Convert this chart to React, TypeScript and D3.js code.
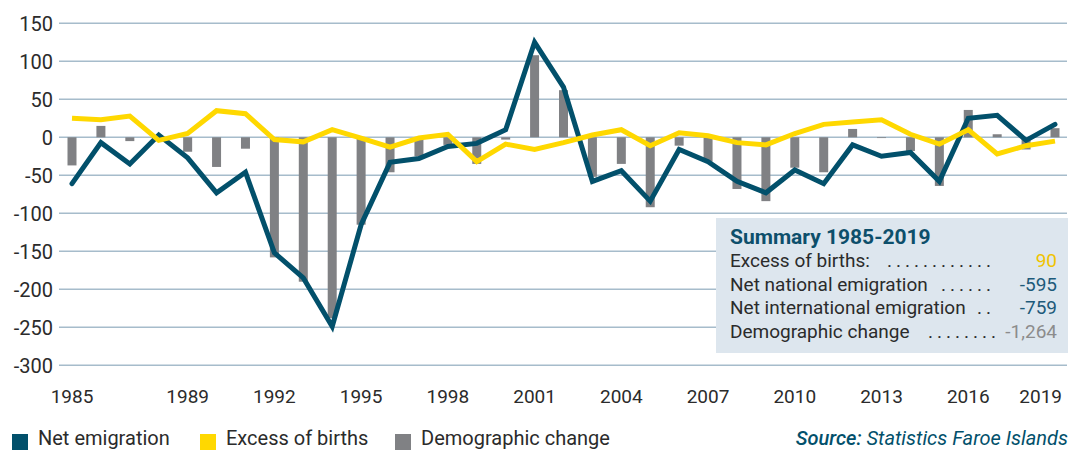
import React from "react";
import * as d3 from "d3";

const years = d3.range(1985, 2020);
const netEmigration = [
  -61, -7, -35, 3, -27, -73, -46, -152, -185, -249,
  -115, -33, -28, -12, -8, 10, 125, 66, -58, -44,
  -84, -16, -32, -58, -73, -43, -61, -10, -25, -20,
  -58, 25, 29, -4, 17,
];
const excessOfBirths = [
  25, 23, 28, -4, 5, 35, 31, -3, -6, 10,
  -1, -13, -1, 4, -32, -9, -16, -7, 3, 10,
  -11, 6, 2, -7, -10, 5, 17, 20, 23, 4,
  -9, 10, -22, -11, -5,
];
const demographicChange = [
  -37, 15, -5, -1, -19, -39, -15, -158, -190, -238,
  -115, -46, -25, -10, -35, -3, 108, 62, -52, -35,
  -92, -11, -32, -68, -84, -40, -46, 11, -1, -18,
  -64, 36, 4, -16, 12,
];
const yTicks = [150, 100, 50, 0, -50, -100, -150, -200, -250, -300];
const xTickYears = [1985, 1989, 1992, 1995, 1998, 2001, 2004, 2007, 2010, 2013, 2016, 2019];
const legendItems = ["Net emigration", "Excess of births", "Demographic change"];
const summaryTitle = "Summary 1985-2019";
const summaryLabels = ["Excess of births:", "Net national emigration", "Net international emigration", "Demographic change"];
const summaryValues = ["90", "-595", "-759", "-1,264"];
const summaryDots = [12, 6, 2, 8];

const BLUE = "#02506b";
const YELLOW = "#ffd800";
const GRAY = "#808184";
const GRID = "#a6bccb";
const TEXT = "#2b2b2b";

export default function App() {
  const x = d3.scaleLinear().domain([1985, 2019]).range([72, 1055]);
  const y = d3.scaleLinear().domain([-300, 150]).range([365.3, 23.3]);
  const line = d3
    .line<number>()
    .x((_, i) => x(years[i]))
    .y((d) => y(d))
    .curve(d3.curveLinear);
  const barW = 9;
  const font = "Roboto, 'Open Sans', sans-serif";
  const legendX = [12, 200, 395];
  const summaryColors = ["#f0c300", "#1d5a7a", "#1d5a7a", "#8c8c8c"];

  return (
    <svg
      width={1082}
      height={450}
      style={{ position: "absolute", left: 0, top: 0, background: "#fff" }}
      fontFamily={font}
    >
      {yTicks.map((t) => (
        <g key={t}>
          <line x1={59} x2={1067} y1={y(t)} y2={y(t)} stroke={GRID} strokeWidth={1.4} />
          <text x={53} y={y(t)} dy="0.36em" textAnchor="end" fontSize={20} fill={TEXT}>
            {t}
          </text>
        </g>
      ))}
      {demographicChange.map((v, i) => (
        <rect
          key={i}
          x={x(years[i]) - barW / 2}
          width={barW}
          y={Math.min(y(v), y(0))}
          height={Math.abs(y(v) - y(0))}
          fill={GRAY}
        />
      ))}
      <path d={line(netEmigration) || ""} fill="none" stroke={BLUE} strokeWidth={5} strokeLinejoin="miter" strokeLinecap="round" />
      <path d={line(excessOfBirths) || ""} fill="none" stroke={YELLOW} strokeWidth={5} strokeLinejoin="miter" strokeLinecap="butt" />
      {xTickYears.map((yr) => (
        <text
          key={yr}
          x={yr === 2019 ? 1062 : x(yr)}
          y={403}
          textAnchor={yr === 2019 ? "end" : "middle"}
          fontSize={19}
          fill={TEXT}
        >
          {yr}
        </text>
      ))}
      <g>
        <rect x={716} y={218} width={352} height={135} fill="#dde6ee" />
        <text x={730} y={244} fontSize={21} fontWeight="bold" fill="#0d4f6b">
          {summaryTitle}
        </text>
        {summaryLabels.map((lab, i) => (
          <g key={lab}>
            <text x={730} y={267 + i * 23.5} fontSize={19} fill={TEXT}>
              {lab}
            </text>
            <text x={i === 3 ? 1000 : 995} y={267 + i * 23.5} fontSize={19} fill={TEXT} textAnchor="end" letterSpacing={4}>
              {".".repeat(summaryDots[i])}
            </text>
            <text x={1057} y={267 + i * 23.5} fontSize={19} fill={summaryColors[i]} textAnchor="end">
              {summaryValues[i]}
            </text>
          </g>
        ))}
      </g>
      {legendItems.map((lab, i) => (
        <g key={lab}>
          <rect x={legendX[i]} y={434} width={16} height={16} fill={[BLUE, YELLOW, GRAY][i]} />
          <text x={legendX[i] + 26} y={445} fontSize={20} fill={TEXT}>
            {lab}
          </text>
        </g>
      ))}
      <text x={1068} y={445} textAnchor="end" fontSize={20} fontStyle="italic" fill={BLUE}>
        <tspan fontWeight="500">Source:</tspan> Statistics Faroe Islands
      </text>
    </svg>
  );
}
